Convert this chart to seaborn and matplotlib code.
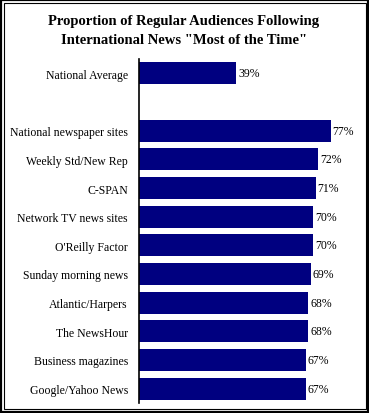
import matplotlib
matplotlib.use("Agg")
import matplotlib.pyplot as plt
import seaborn as sns
import pandas as pd
from matplotlib.patches import Rectangle

categories = ["National Average", "", "National newspaper sites", "Weekly Std/New Rep",
              "C-SPAN", "Network TV news sites", "O'Reilly Factor", "Sunday morning news",
              "Atlantic/Harpers", "The NewsHour", "Business magazines", "Google/Yahoo News"]
values = [39, 0, 77, 72, 71, 70, 70, 69, 68, 68, 67, 67]
value_labels = ["39%", "", "77%", "72%", "71%", "70%", "70%", "69%", "68%", "68%", "67%", "67%"]
title = 'Proportion of Regular Audiences Following\nInternational News "Most of the Time"'

df = pd.DataFrame({"cat": categories, "val": values})

W, H = 369, 414
fig = plt.figure(figsize=(W / 100, H / 100), dpi=100)
ax = fig.add_axes([139 / W, 10 / H, 224 / W, 344 / H])

sns.barplot(data=df, x="val", y="cat", order=categories, color="#000080",
            saturation=1, width=0.77, ax=ax, orient="h")
ax.set_xlim(0, 90)
ax.set_ylim(len(categories) - 0.5, -0.5)
ax.set_xlabel("")
ax.set_ylabel("")
ax.set_xticks([])
ax.tick_params(axis="y", length=0, pad=8)
ax.set_yticks(range(len(categories)))
ax.set_yticklabels(categories, fontfamily="Liberation Serif", fontsize=8.5)
for s in ["top", "right", "bottom"]:
    ax.spines[s].set_visible(False)
ax.spines["left"].set_linewidth(1.2)
ax.spines["left"].set_color("black")

for i, (v, lab) in enumerate(zip(values, value_labels)):
    if lab:
        ax.text(v + 0.8, i, lab, va="center", ha="left",
                fontfamily="Liberation Serif", fontsize=8.5)

fig.text(184 / W, 1 - 31 / H, title, ha="center", va="center",
         fontfamily="Liberation Serif", fontweight="bold", fontsize=10.5, linespacing=1.5)

# double frame
fig.patches.append(Rectangle((1 / W, 1 / H), 367 / W, 412 / H, transform=fig.transFigure,
                             fill=False, edgecolor="black", linewidth=1.6))
fig.patches.append(Rectangle((3.5 / W, 4.5 / H), 362 / W, 405.5 / H, transform=fig.transFigure,
                             fill=False, edgecolor="black", linewidth=0.8))

fig.savefig("out.png", dpi=100)
